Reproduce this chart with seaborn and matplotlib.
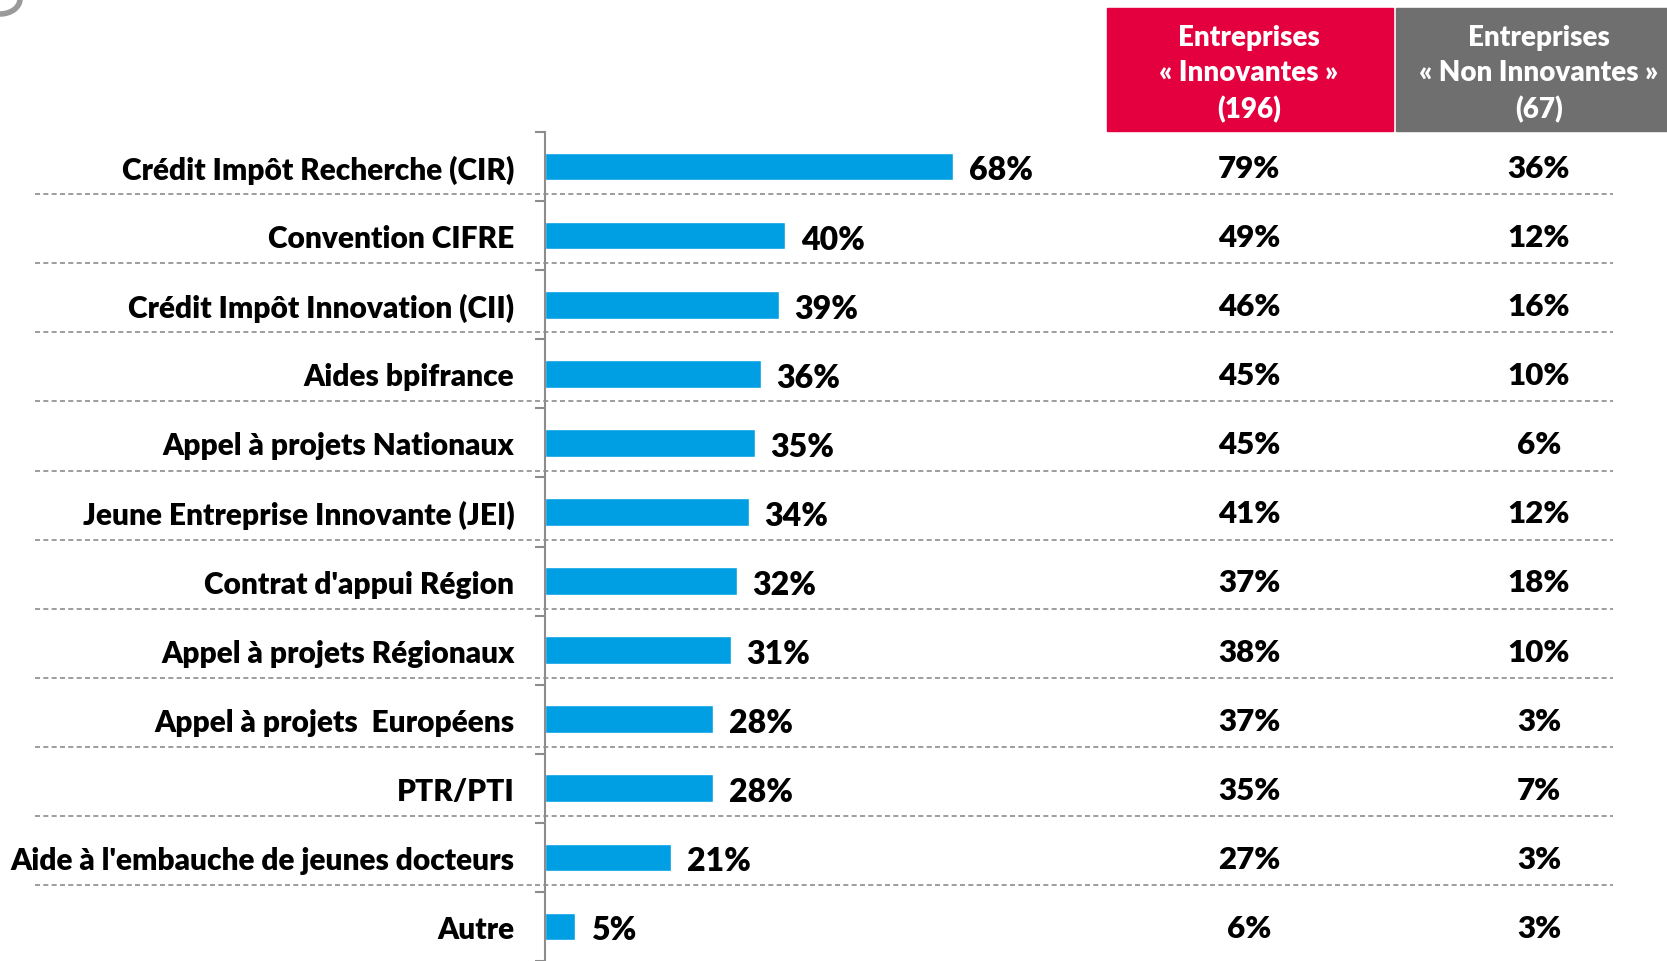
import numpy as np
import pandas as pd
import matplotlib
matplotlib.use("Agg")
import matplotlib.pyplot as plt
import matplotlib.transforms as mtransforms
from matplotlib.patches import Rectangle, Arc
import seaborn as sns

# Data
categories = [
    "Crédit Impôt Recherche (CIR)",
    "Convention CIFRE",
    "Crédit Impôt Innovation (CII)",
    "Aides bpifrance",
    "Appel à projets Nationaux",
    "Jeune Entreprise Innovante (JEI)",
    "Contrat d'appui Région",
    "Appel à projets Régionaux",
    "Appel à projets  Européens",
    "PTR/PTI",
    "Aide à l'embauche de jeunes docteurs",
    "Autre",
]
total = [68, 40, 39, 36, 35, 34, 32, 31, 28, 28, 21, 5]
innovantes = [79, 49, 46, 45, 45, 41, 37, 38, 37, 35, 27, 6]
non_innovantes = [36, 12, 16, 10, 6, 12, 18, 10, 3, 7, 3, 3]
headers = ["Entreprises\n« Innovantes »\n(196)", "Entreprises\n« Non Innovantes »\n(67)"]

BLUE = "#009FE3"
RED = "#E4003F"
GREY = "#6F6F6F"
LINE = "#8C8C8C"
WEIGHT = "heavy"

sns.set_theme(style="white")
plt.rcParams["font.family"] = ["Lato", "DejaVu Sans"]
plt.rcParams["font.weight"] = WEIGHT

W, H = 1667, 962
fig = plt.figure(figsize=(W / 100, H / 100), dpi=100)

# axis: x from 545 px, 6 px per percent; rows from 133 px (top) to bottom
left = 545 / W
ax = fig.add_axes([left, 0, 1068 / W, (H - 133) / H])

df = pd.DataFrame({"cat": categories, "val": total})
sns.barplot(data=df, y="cat", x="val", orient="h", color=BLUE, width=0.4,
            saturation=1, ax=ax)

n = len(categories)
ax.set_xlim(0, 1068 / 6)
ax.set_ylim(n - 0.58, -0.5)
ax.set_xlabel("")
ax.set_ylabel("")
ax.set_xticks([])

for s in ["top", "right", "bottom"]:
    ax.spines[s].set_visible(False)
ax.spines["left"].set_color(LINE)
ax.spines["left"].set_linewidth(1.5)

ax.tick_params(axis="y", which="major", length=0, pad=22, labelsize=21.5)
for lab in ax.get_yticklabels():
    lab.set_fontweight(WEIGHT)
    lab.set_color("black")
ax.set_yticks(np.arange(-0.5, n, 1), minor=True)
ax.tick_params(axis="y", which="minor", left=True, length=7, width=1.5,
               color=LINE, direction="out")

# value labels after the bars
for i, v in enumerate(total):
    ax.text(v + 2.6, i + 0.05, f"{v}%", va="center", ha="left",
            fontsize=23, fontweight=WEIGHT, color="black")

blend = mtransforms.blended_transform_factory(fig.transFigure, ax.transData)

# dashed separators
for i in range(n - 1):
    ax.plot([35 / W, 1613 / W], [i + 0.40, i + 0.40], transform=blend,
            color=LINE, lw=1.2, ls=(0, (3, 2)), clip_on=False, zorder=0)

# side columns
col_x = [1249 / W, 1539 / W]
for cx, vals in zip(col_x, [innovantes, non_innovantes]):
    for i, v in enumerate(vals):
        ax.text(cx, i + 0.02, f"{v}%", transform=blend, ha="center", va="center",
                fontsize=22.5, fontweight=WEIGHT, color="black")

# header boxes
boxes = [(1107, 1393, RED), (1396, 1667, GREY)]
for (x0, x1, c), txt, cx in zip(boxes, headers, col_x):
    fig.patches.append(Rectangle((x0 / W, 1 - 132 / H), (x1 - x0) / W, 123 / H,
                                 transform=fig.transFigure, color=c, zorder=0))
    fig.text(cx, 1 - 74 / H, txt, ha="center", va="center",
             color="white", fontsize=20, fontweight=WEIGHT, linespacing=1.42)

# small decorative arc in the top-left corner
fig.patches.append(Arc((0, 1), 40 / W, 30 / H, theta1=270, theta2=360,
                       transform=fig.transFigure, color="#9A9A9A", lw=4))

fig.savefig("out.png", dpi=100)
